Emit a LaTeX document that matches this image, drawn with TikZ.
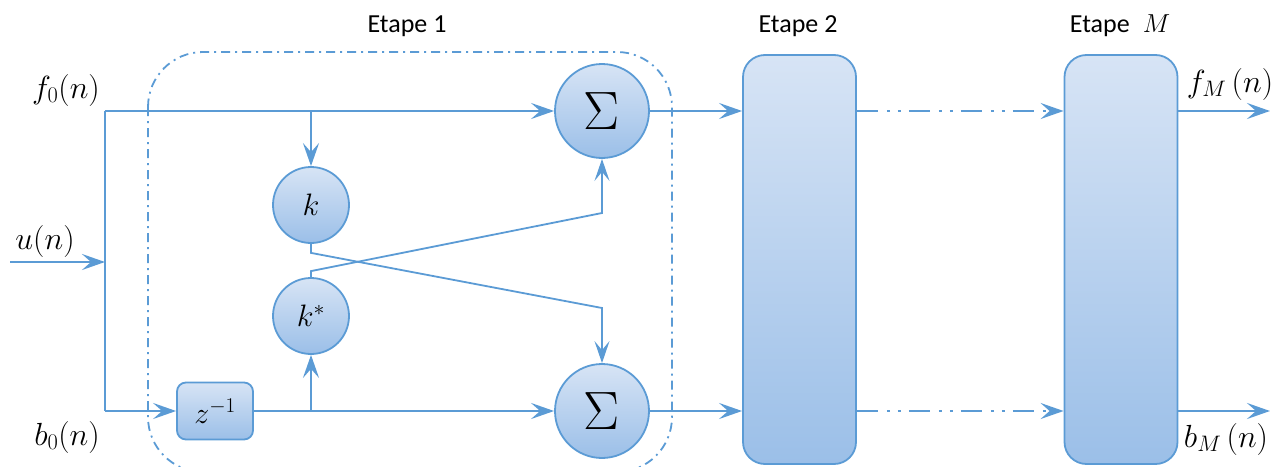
\documentclass[tikz,border=0pt]{standalone}
\usepackage{fix-cm}
\usepackage{fontspec}
\newfontfamily\stepfont{Carlito}
\usetikzlibrary{arrows.meta,calc}
\definecolor{edge}{HTML}{5B9BD5}
\definecolor{fillTop}{HTML}{D7E4F5}
\definecolor{fillBot}{HTML}{9BBFE8}
\tikzset{
  conn/.style={draw=edge, line width=2.6pt},
  arr/.style={conn, -{Stealth[length=23pt,width=16pt,inset=9pt]}},
  cross/.style={draw=edge, line width=1.8pt},
  crossarr/.style={cross, -{Stealth[length=22pt,width=15pt,inset=9pt]}},
  blob/.style={draw=edge, line width=1.8pt, top color=fillTop, bottom color=fillBot},
  sumnode/.style={blob, circle, minimum size=94pt, inner sep=0pt, font=\fontsize{54}{54}\selectfont},
  gainnode/.style={blob, circle, minimum size=76pt, inner sep=0pt, font=\fontsize{31}{33}\selectfont},
  delaynode/.style={blob, rounded corners=9pt, minimum width=76pt, minimum height=57pt, inner sep=0pt, font=\fontsize{30}{32}\selectfont},
  stagebox/.style={blob, rounded corners=22pt, minimum width=113pt, minimum height=409pt, inner sep=0pt},
  steplabel/.style={font=\stepfont\fontsize{26}{30}\selectfont},
  siglbl/.style={font=\fontsize{32}{34}\selectfont},
  skiparr/.style={conn, dash pattern=on 21pt off 9pt on 3pt off 8pt on 3pt off 8pt,
                  -{Stealth[length=23pt,width=16pt,inset=9pt]}},
  frame/.style={draw=edge, line width=1.8pt, dash pattern=on 9pt off 5pt on 2pt off 5pt, rounded corners=55pt}
}
\begin{document}
\begin{tikzpicture}[x=1pt,y=-1pt]
\useasboundingbox (0,0) rectangle (1285,466);

% dash-dotted frame of the first stage
\draw[frame] (148,52) rectangle (672,472);

% stage blocks
\node[stagebox] (st2) at (799.5,259.5) {};
\node[stagebox] (stM) at (1121,259.5) {};

% lattice stage 1
\node[sumnode] (S1) at (602,111) {$\Sigma$};
\node[sumnode] (S2) at (602,411) {$\Sigma$};
\node[gainnode] (K) at (311,205) {$k$};
\node[gainnode] (KS) at (311,316) {$k^{*}$};
\node[delaynode] (Z) at (215,411) {$z^{-1}$};

% junctions
\coordinate (lt) at (105,111);
\coordinate (lb) at (105,411);
\coordinate (uin) at (10,262);
\coordinate (uj) at (105,262);
\coordinate (ktap) at (311,111);
\coordinate (kstap) at (311,411);
\coordinate (kx) at (602,308);
\coordinate (ksx) at (602,213);
\coordinate (fout) at (1270,111);
\coordinate (bout) at (1270,411);

% input rails
\draw[conn] (lt) -- (lb);
\draw[arr] (uin) -- (uj);
\draw[arr] (lt) -- (S1.west);
\draw[arr] (lb) -- (Z.west);
\draw[arr] (Z.east) -- (S2.west);
\draw[arr] (ktap) -- (K.north);
\draw[arr] (kstap) -- (KS.south);

% cross couplings
\draw[crossarr] (K.south) -- ++(0,9) -- (kx) -- (S2.north);
\draw[crossarr] (KS.north) -- ++(0,-6) -- (ksx) -- (S1.south);

% stage to stage
\draw[arr] (S1.east) -- (st2.west |- S1);
\draw[arr] (S2.east) -- (st2.west |- S2);
\draw[skiparr] (st2.east |- S1) -- (stM.west |- S1);
\draw[skiparr] (st2.east |- S2) -- (stM.west |- S2);
\draw[arr] (stM.east |- S1) -- (fout);
\draw[arr] (stM.east |- S2) -- (bout);

% labels
\node[steplabel] (t1) at (407,26) {Etape 1};
\node[steplabel] (t2) at (798,26) {Etape 2};
\node[steplabel] (tM) at (1120,26) {Etape\; $M$};
\node[siglbl] (lf0) at (66,90) {$f_0\bigl(n\bigr)$};
\node[siglbl] (lu) at (45,241) {$u\bigl(n\bigr)$};
\node[siglbl] (lb0) at (67,437) {$b_0\bigl(n\bigr)$};
\node[siglbl] (lfM) at (1230,84) {$f_M\,\bigl(n\bigr)$};
\node[siglbl] (lbM) at (1226,439) {$b_M\,\bigl(n\bigr)$};
\end{tikzpicture}
\end{document}
